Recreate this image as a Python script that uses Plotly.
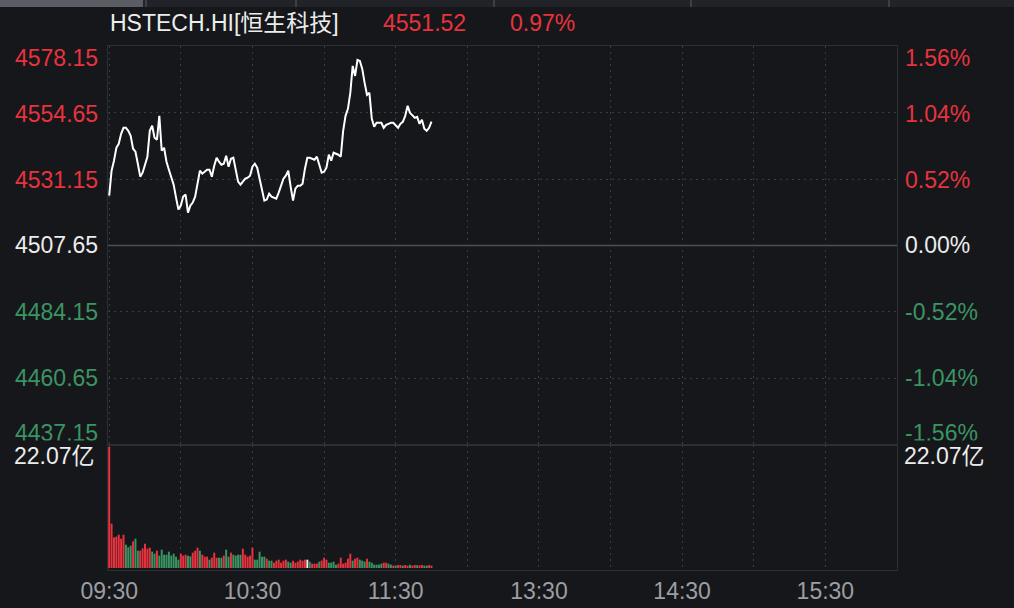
import plotly.graph_objects as go

# ---------------- data ----------------
prev_close = 4507.65
last_price = 4551.52
last_pct = "0.97%"
y_labels_price = ["4578.15", "4554.65", "4531.15", "4507.65", "4484.15", "4460.65", "4437.15"]
y_labels_pct = ["1.56%", "1.04%", "0.52%", "0.00%", "-0.52%", "-1.04%", "-1.56%"]
y_levels = [4578.15, 4554.65, 4531.15, 4507.65, 4484.15, 4460.65, 4437.15]
vol_max_label = "22.07亿"
vol_max = 22.07
time_tick_minutes = [0, 30, 60, 90, 120, 150, 180, 210, 240, 270, 300, 330]
time_tick_labels = ["09:30", "", "10:30", "", "11:30", "", "13:30", "", "14:30", "", "15:30", ""]

prices = [
    4525.32, 4534.16, 4537.69, 4542.28, 4543.70, 4547.23, 4549.35, 4549.35, 4548.29, 4546.52,
    4541.93, 4540.87, 4536.63, 4532.03, 4533.45, 4535.92, 4539.10, 4548.29, 4550.06, 4545.82,
    4545.11, 4553.59, 4541.22, 4542.28, 4537.34, 4534.51, 4532.03, 4529.21, 4524.61, 4520.37,
    4521.79, 4524.97, 4525.67, 4519.31, 4521.79, 4522.85, 4524.97, 4529.56, 4534.16, 4533.09,
    4533.80, 4534.51, 4534.51, 4532.03, 4535.92, 4538.75, 4537.34, 4536.28, 4536.63, 4539.46,
    4535.57, 4538.40, 4538.75, 4534.86, 4530.27, 4529.21, 4530.27, 4531.33, 4531.68, 4532.39,
    4535.57, 4536.63, 4535.22, 4530.97, 4527.09, 4523.55, 4523.91, 4526.03, 4524.97, 4524.61,
    4524.26, 4526.38, 4529.21, 4531.33, 4532.39, 4534.16, 4528.50, 4523.55, 4527.79, 4528.85,
    4528.85, 4529.56, 4534.86, 4538.75, 4538.75, 4538.40, 4538.04, 4539.10, 4536.63, 4533.45,
    4533.80, 4535.22, 4539.81, 4537.69, 4540.52, 4540.16, 4539.81, 4539.10, 4548.29, 4553.59,
    4556.07, 4561.72, 4571.26, 4567.73, 4573.38, 4573.03, 4570.20, 4565.25, 4561.01, 4561.72,
    4552.53, 4549.70, 4551.12, 4551.12, 4551.12, 4549.35, 4550.41, 4550.76, 4551.12, 4551.12,
    4550.06, 4549.35, 4550.76, 4551.47, 4553.59, 4557.13, 4554.65, 4553.59, 4552.89, 4553.24,
    4550.76, 4552.18, 4549.00, 4548.29, 4549.35, 4551.52,
]

volumes = [
    22.07, 8.09, 5.59, 5.72, 6.08, 5.35, 6.08, 4.26, 3.77, 4.07,
    4.86, 5.35, 3.16, 3.16, 3.59, 4.44, 3.53, 3.71, 2.98, 2.61,
    3.16, 2.25, 3.34, 2.43, 2.43, 2.98, 2.25, 2.61, 2.07, 1.52,
    2.61, 2.25, 2.43, 2.25, 2.13, 2.80, 3.16, 3.71, 3.16, 2.43,
    2.07, 2.07, 1.52, 1.88, 2.80, 1.88, 1.88, 1.88, 2.25, 3.34,
    2.07, 2.80, 2.43, 2.25, 2.43, 2.43, 3.53, 2.43, 2.07, 2.25,
    3.71, 1.52, 1.52, 2.98, 2.07, 2.07, 1.70, 1.34, 1.34, 0.97,
    1.34, 1.52, 0.97, 1.34, 1.52, 1.16, 0.97, 1.34, 0.97, 1.16,
    1.52, 1.34, 1.52, 1.52, 1.16, 0.79, 0.79, 0.79, 1.16, 1.34,
    1.88, 1.52, 0.97, 0.97, 1.16, 0.61, 0.79, 1.88, 0.79, 0.97,
    1.70, 2.61, 1.34, 1.70, 1.88, 1.52, 1.34, 1.16, 1.70, 1.16,
    0.97, 0.61, 0.61, 0.61, 0.79, 0.97, 0.97, 0.79, 0.61, 0.43,
    0.43, 0.55, 0.55, 0.43, 0.55, 0.43, 0.61, 0.43, 0.55, 0.49,
    0.49, 0.55, 0.43, 0.43, 0.55, 0.43,
]

# u = up (red), d = down (green), n = unchanged (white)
bar_dirs = (
    "uuuuuuuddd" "udduuuuudd" "uddddddddd" "uuudduuudu" "uuduuuddud"
    "dudddduuuu" "uddddduddu" "uuuuudduuu" "uuunduuudu" "uudddduuuu"
    "uuduudddud" "ddddduuddu" "duuduuduud" "uudduu"
)

# ---------------- styling ----------------
BG = "#16171b"
RED = "#e8333e"
GREEN = "#3b9463"
WHITE = "#ececec"
GRID = "#3a3d43"
BORDER = "#2c2e33"
FONT = "Liberation Sans, Arial, Noto Sans CJK SC, sans-serif"
FS = 23

W, H = 1014, 608
PL, PR, PT, PB = 108, 897, 46, 570
SPLIT = 445


def px_x(X):
    return (X - PL) / (PR - PL)


def px_y(Y):
    return (PB - Y) / (PB - PT)


minutes = list(range(len(prices)))
dir_color = {"u": RED, "d": GREEN, "n": WHITE}
bar_colors = [dir_color[c] for c in bar_dirs]

fig = go.Figure()
fig.add_trace(go.Scatter(
    x=minutes, y=prices, mode="lines",
    line=dict(color="#ffffff", width=2),
    xaxis="x", yaxis="y", hoverinfo="skip",
))
fig.add_trace(go.Bar(
    x=minutes, y=volumes, marker=dict(color=bar_colors, line=dict(width=0)),
    xaxis="x2", yaxis="y2", hoverinfo="skip",
))

xr = [-0.5, 330]
vol_dom = px_y(SPLIT)
grid_dash = "2px,4px"
common = dict(showline=True, mirror=True, linecolor=BORDER, linewidth=1,
              zeroline=False, automargin=False, fixedrange=True)
fig.update_layout(
    width=W, height=H, autosize=False,
    margin=dict(l=PL, r=W - PR, t=PT, b=H - PB, autoexpand=False),
    paper_bgcolor=BG, plot_bgcolor=BG,
    showlegend=False, bargap=0.18,
    font=dict(family=FONT, color=WHITE),
    xaxis=dict(
        domain=[0, 1], anchor="y", range=xr,
        tickvals=time_tick_minutes, showticklabels=False, ticks="",
        showgrid=True, gridcolor=GRID, griddash=grid_dash, gridwidth=1, **common,
    ),
    yaxis=dict(
        domain=[vol_dom, 1], anchor="x", range=[4436.97, 4578.33],
        tickvals=[y_levels[1], y_levels[2], y_levels[4], y_levels[5]],
        showticklabels=False, ticks="",
        showgrid=True, gridcolor=GRID, griddash=grid_dash, gridwidth=1, **common,
    ),
    xaxis2=dict(
        domain=[0, 1], anchor="y2", range=xr,
        tickvals=time_tick_minutes, ticktext=time_tick_labels,
        tickfont=dict(size=23, color="#9c9ea3", family=FONT), ticks="",
        ticklabelstandoff=0,
        showgrid=True, gridcolor=GRID, griddash=grid_dash, gridwidth=1, **common,
    ),
    yaxis2=dict(
        domain=[0, vol_dom], anchor="x2", range=[-0.365, vol_max + 0.365],
        showticklabels=False, ticks="", showgrid=False, **common,
    ),
)

shapes = [
    # previous-close line
    dict(type="line", xref="x domain", yref="y", x0=0, x1=1, y0=prev_close, y1=prev_close,
         line=dict(color="#4c4f56", width=1.5), layer="below"),
    # top tab strip
    dict(type="rect", xref="paper", yref="paper", x0=px_x(0), x1=px_x(W), y0=px_y(7), y1=px_y(0),
         fillcolor="#212328", line=dict(width=0)),
    dict(type="rect", xref="paper", yref="paper", x0=px_x(0), x1=px_x(143), y0=px_y(7), y1=px_y(0),
         fillcolor="#5a5d64", line=dict(width=0)),
]
for sx in [146, 296, 494, 691, 889]:
    shapes.append(dict(type="line", xref="paper", yref="paper", x0=px_x(sx), x1=px_x(sx),
                       y0=px_y(7), y1=px_y(0), line=dict(color="#3c3f45", width=2)))
fig.update_layout(shapes=shapes)

annotations = []
label_y_px = [58, 114, 180, 245, 312, 378, 433]
for i, (pl, pc, lv) in enumerate(zip(y_labels_price, y_labels_pct, y_levels)):
    if lv > prev_close:
        col = RED
    elif lv < prev_close:
        col = GREEN
    else:
        col = WHITE
    yy = px_y(label_y_px[i])
    annotations.append(dict(text=pl, xref="paper", yref="paper", x=px_x(13), y=yy,
                            xanchor="left", yanchor="middle", showarrow=False,
                            font=dict(size=FS, color=col, family=FONT)))
    annotations.append(dict(text=pc, xref="paper", yref="paper", x=px_x(903), y=yy,
                            xanchor="left", yanchor="middle", showarrow=False,
                            font=dict(size=FS, color=col, family=FONT)))

for xl in [13, 903]:
    annotations.append(dict(text=vol_max_label, xref="paper", yref="paper", x=px_x(xl - 2),
                            y=px_y(456), xanchor="left", yanchor="middle", showarrow=False,
                            bgcolor=BG, borderpad=2,
                            font=dict(size=FS, color=WHITE, family=FONT)))

# header
annotations.append(dict(text="HSTECH.HI[恒生科技]", xref="paper", yref="paper", x=px_x(108),
                        y=px_y(23), xanchor="left", yanchor="middle", showarrow=False,
                        font=dict(size=FS, color=WHITE, family=FONT)))
annotations.append(dict(text=f"{last_price:.2f}", xref="paper", yref="paper", x=px_x(381),
                        y=px_y(23), xanchor="left", yanchor="middle", showarrow=False,
                        font=dict(size=FS, color=RED, family=FONT)))
annotations.append(dict(text=last_pct, xref="paper", yref="paper", x=px_x(508),
                        y=px_y(23), xanchor="left", yanchor="middle", showarrow=False,
                        font=dict(size=FS, color=RED, family=FONT)))
fig.update_layout(annotations=annotations)

fig.write_html(
    "out.html",
    config={"displayModeBar": False, "staticPlot": True},
    post_script="document.body.style.margin='0';document.body.style.padding='0';"
                "document.body.style.background='" + BG + "';",
)
